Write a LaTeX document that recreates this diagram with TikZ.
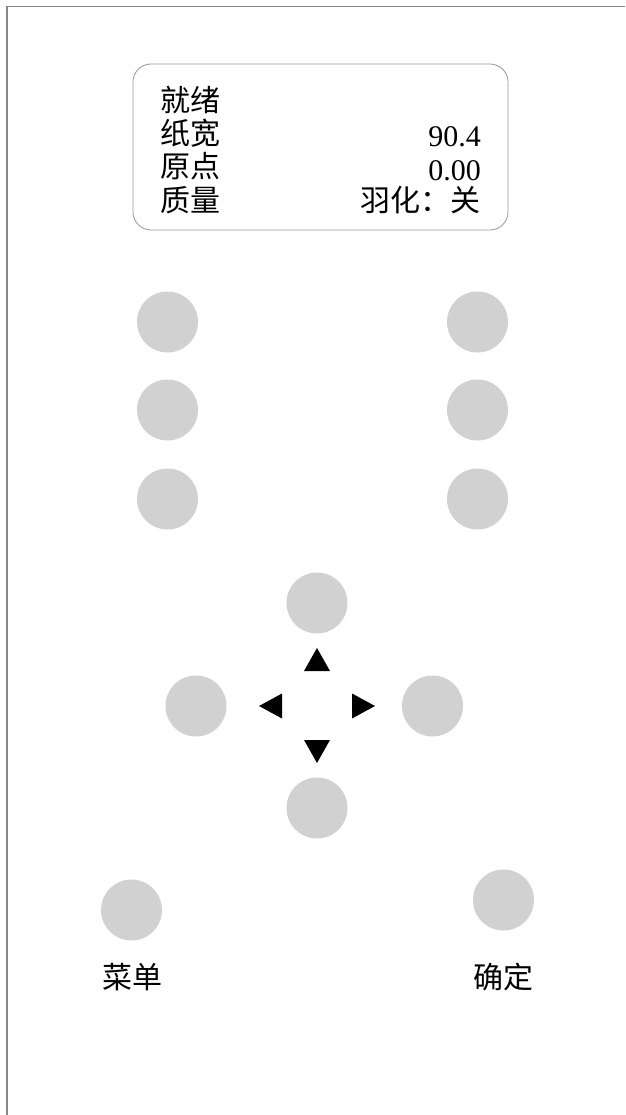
\documentclass[tikz,border=0pt]{standalone}
\usepackage{fontspec}
\setmainfont{Liberation Serif}
\newfontfamily\cjk{Noto Sans CJK SC}
\definecolor{btngray}{RGB}{209,209,209}
\definecolor{framegray}{RGB}{135,135,135}
\definecolor{boxgray}{RGB}{150,150,150}
\begin{document}
\begin{tikzpicture}[x=1pt,y=-1pt,
  btn/.style={circle,fill=btngray,draw=none,minimum size=61pt,inner sep=0pt},
  cjktext/.style={font=\cjk\fontsize{30}{30}\selectfont,inner sep=0pt},
  numtext/.style={font=\fontsize{30}{30}\selectfont,inner sep=0pt},
  arrowtri/.style={fill=black,draw=none},
  framebar/.style={draw=framegray,line width=1.5pt},
  lcdbox/.style={draw=boxgray,line width=0.8pt,rounded corners=18pt,minimum width=375pt,minimum height=166pt,inner sep=0pt}]
\useasboundingbox (0,0) rectangle (625,1115);
% frame
\coordinate (ftr) at (625,6.5);
\coordinate (ftl) at (7,6.5);
\coordinate (fbl) at (7,1115);
\draw[framebar] (ftr) -- (ftl) -- (fbl);
% display
\node[lcdbox] (lcd) at (320.5,147) {};
\node[cjktext,anchor=base west] (l1) at (160,111.5) {就绪};
\node[cjktext,anchor=base west] (l2) at (160,144.5) {纸宽};
\node[cjktext,anchor=base west] (l3) at (160,178) {原点};
\node[cjktext,anchor=base west] (l4) at (160,211.5) {质量};
\node[numtext,anchor=base east] (v2) at (481,147) {90.4};
\node[numtext,anchor=base east] (v3) at (481,181) {0.00};
\node[cjktext,anchor=base east] (v4) at (481,211.5) {羽化：关};
% side buttons
\node[btn] (bl1) at (167.5,322) {};
\node[btn] (bl2) at (167.5,410) {};
\node[btn] (bl3) at (167.5,499) {};
\node[btn] (br1) at (477.5,322) {};
\node[btn] (br2) at (477.5,410) {};
\node[btn] (br3) at (477.5,499) {};
% d-pad
\node[btn] (up) at (317,603) {};
\node[btn] (left) at (196,706) {};
\node[btn] (right) at (432.5,706) {};
\node[btn] (down) at (317,808) {};
\fill[arrowtri] (304,671) -- (330,671) -- (317,648) -- cycle;
\fill[arrowtri] (304,740) -- (330,740) -- (317,763) -- cycle;
\fill[arrowtri] (282,693.5) -- (282,718.5) -- (259,706) -- cycle;
\fill[arrowtri] (352,693.5) -- (352,718.5) -- (375,706) -- cycle;
% bottom buttons
\node[btn] (menu) at (131.5,910) {};
\node[btn] (ok) at (503.5,900) {};
\node[cjktext,anchor=base] (menulbl) at (132,988.5) {菜单};
\node[cjktext,anchor=base] (oklbl) at (503,988.5) {确定};
\end{tikzpicture}
\end{document}
